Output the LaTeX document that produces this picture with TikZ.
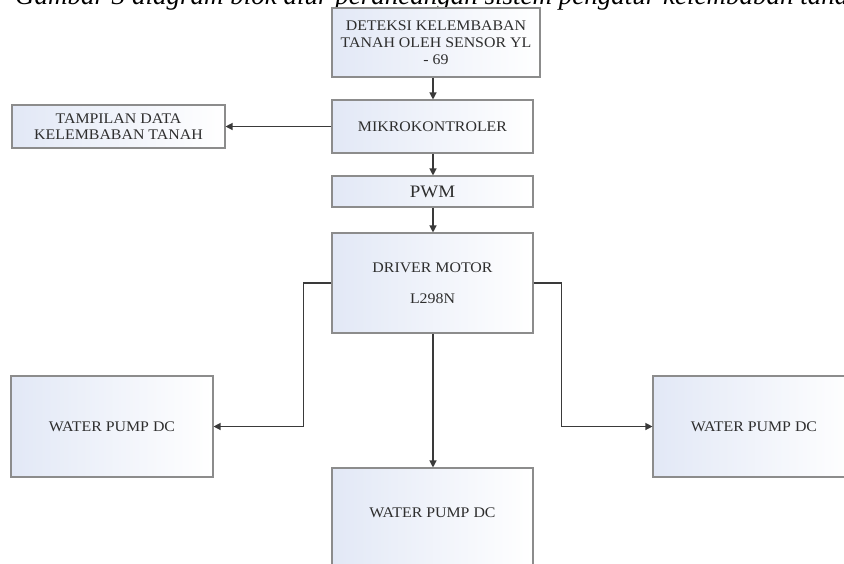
\documentclass[tikz,border=0pt]{standalone}
\usepackage{fontspec}
\setmainfont{Liberation Serif}[FakeStretch=1.08]
\newfontfamily\titlefont{Liberation Serif}
\usetikzlibrary{arrows.meta}
\definecolor{boxblue}{HTML}{E2E8F6}
\definecolor{boxline}{HTML}{8C8C8C}
\definecolor{txt}{HTML}{2E2E2E}
\definecolor{wire}{HTML}{3A3A3A}
\tikzset{
  blk/.style={draw=boxline, line width=1.1pt, left color=boxblue, right color=white,
    text=txt, align=center, inner sep=2pt, font=\fontsize{14.7}{17}\selectfont},
  arr/.style={draw=wire, line width=1.2pt, -{Triangle[length=7pt,width=7pt]}}
}
\begin{document}
\begin{tikzpicture}[x=1pt,y=-1pt]
\useasboundingbox (0,0) rectangle (844,563);
\clip (0,0) rectangle (844,563);
\fill[white] (0,0) rectangle (844,563);
\node[anchor=base west, font=\titlefont\fontsize{27}{29}\selectfont\itshape, inner sep=0pt] (title) at (15,4) {Gambar 3 diagram blok alur perancangan sistem pengatur kelembaban tanah};
\node[blk, minimum width=208pt, minimum height=69pt] (det) at (436,42.5) {DETEKSI KELEMBABAN\\TANAH OLEH SENSOR YL\\- 69};
\node[blk, minimum width=201pt, minimum height=53pt] (mik) at (432.5,126.5) {MIKROKONTROLER};
\node[blk, minimum width=201pt, minimum height=31pt, font=\fontsize{17.5}{20}\selectfont] (pwm) at (432.5,191.5) {PWM};
\node[blk, minimum width=201pt, minimum height=100pt, font=\fontsize{14.7}{31}\selectfont] (drv) at (432.5,283) {DRIVER MOTOR\\L298N};
\node[blk, minimum width=213pt, minimum height=43pt, font=\fontsize{14.7}{15.5}\selectfont] (tam) at (118.5,126.5) {TAMPILAN DATA\\KELEMBABAN TANAH};
\node[blk, minimum width=202pt, minimum height=101pt] (pl) at (112,426.5) {WATER PUMP DC};
\node[blk, minimum width=202pt, minimum height=101pt] (pr) at (754,426.5) {WATER PUMP DC};
\node[blk, minimum width=201pt, minimum height=101pt] (pb) at (432.5,518.5) {\raisebox{12pt}{WATER PUMP DC}};
\coordinate (cx) at (433,0);
\draw[arr] (det.south -| cx) -- (mik.north -| cx);
\draw[arr] (mik.south -| cx) -- (pwm.north -| cx);
\draw[arr] (pwm.south -| cx) -- (drv.north -| cx);
\draw[arr] (drv.south -| cx) -- (pb.north -| cx);
\draw[arr] (mik.west) -- (tam.east);
\draw[arr] (drv.west) -- ++(-28,0) |- (pl.east);
\draw[arr] (drv.east) -- ++(28,0) |- (pr.west);
\end{tikzpicture}
\end{document}
